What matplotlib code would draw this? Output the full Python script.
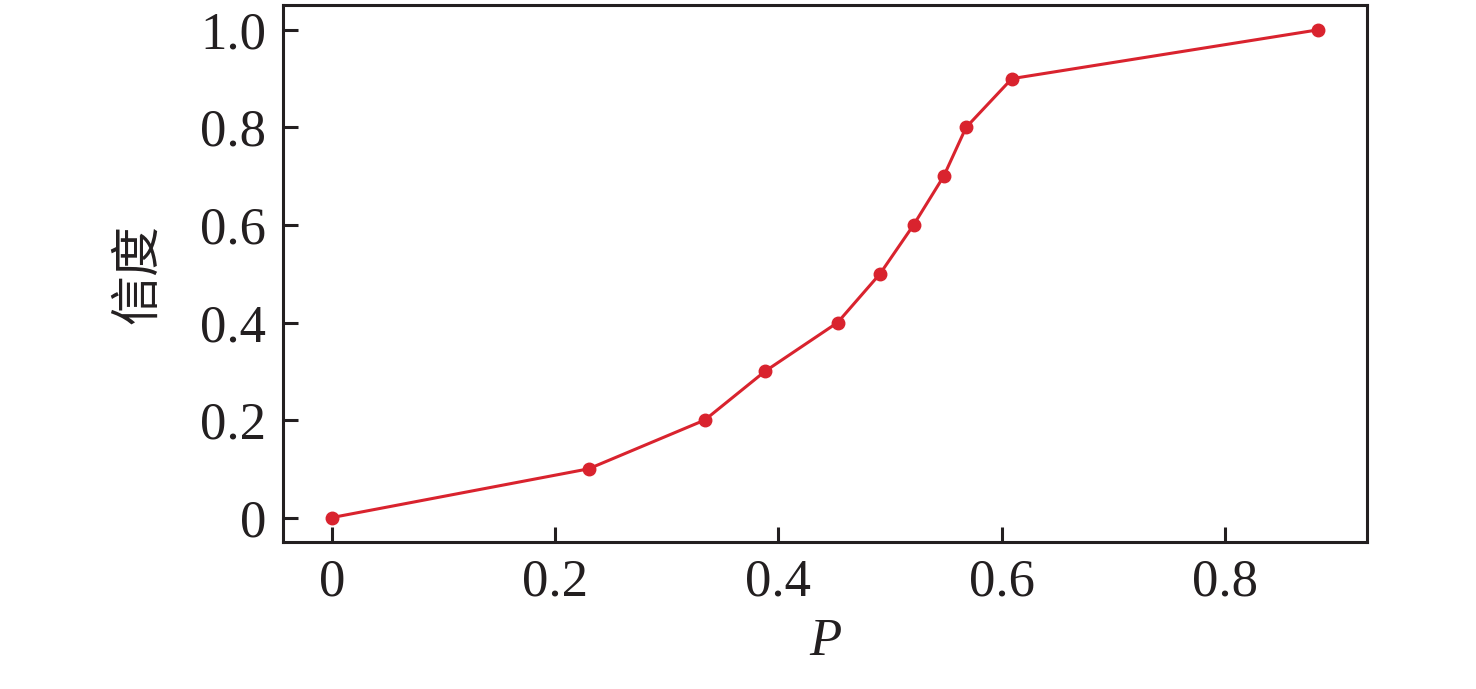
import matplotlib
matplotlib.use("Agg")
import matplotlib.pyplot as plt

plt.rcParams["font.family"] = ["Liberation Serif", "Noto Sans CJK SC"]
plt.rcParams["mathtext.fontset"] = "stix"

p_values = [0.0, 0.23, 0.334, 0.388, 0.453, 0.491, 0.521, 0.548, 0.568, 0.609, 0.883]
belief = [0.0, 0.1, 0.2, 0.3, 0.4, 0.5, 0.6, 0.7, 0.8, 0.9, 1.0]
x_ticks = [0, 0.2, 0.4, 0.6, 0.8]
x_tick_labels = ["0", "0.2", "0.4", "0.6", "0.8"]
y_ticks = [0, 0.2, 0.4, 0.6, 0.8, 1.0]
y_tick_labels = ["0", "0.2", "0.4", "0.6", "0.8", "1.0"]

fig = plt.figure(figsize=(14.76, 6.89), dpi=100)
ax = fig.add_axes([283/1476, 1 - 542/689, (1367-283)/1476, (542-5)/689])

ax.plot(p_values, belief, color="#d9232e", lw=2.2, marker="o", ms=9, mec="#d9232e", mfc="#d9232e")

ax.set_xlim(-0.0436, 0.927)
ax.set_ylim(-0.05, 1.051)
ax.set_xticks(x_ticks)
ax.set_xticklabels(x_tick_labels, fontfamily="Liberation Serif")
ax.set_yticks(y_ticks)
ax.set_yticklabels(y_tick_labels, fontfamily="Liberation Serif")
for s in ax.spines.values():
    s.set_linewidth(2.2)
    s.set_color("#231f20")
ax.tick_params(direction="in", length=11, width=2.2, color="#231f20", labelcolor="#231f20", labelsize=38, pad=12)

ax.set_xlabel("P", fontsize=38, fontfamily="Liberation Serif", fontstyle="italic", color="#231f20", labelpad=8)
ax.set_ylabel("信度", fontsize=36, fontfamily=["Noto Sans CJK SC", "DejaVu Sans"], color="#231f20", labelpad=26)

fig.savefig("out.png", dpi=100)
